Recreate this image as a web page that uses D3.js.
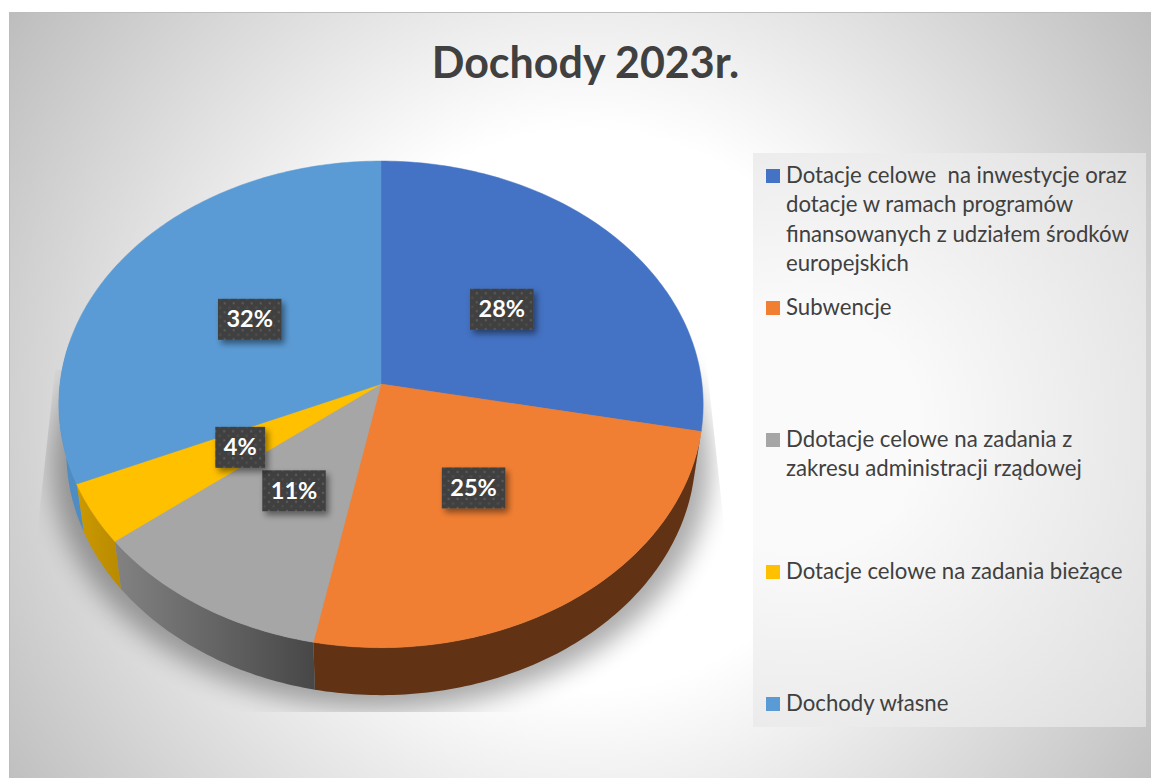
<!DOCTYPE html>
<html>
<head>
<meta charset="utf-8">
<script src="https://d3js.org/d3.v7.min.js"></script>
<style>
  html, body { margin: 0; padding: 0; background: white; overflow: hidden; }
  text { font-family: Lato, "Open Sans", sans-serif; white-space: pre; }
</style>
</head>
<body>
<div id="chart"></div>
<script>
// chart data
const titleText = "Dochody 2023r.";
const categories = [
  "Dotacje celowe  na inwestycje oraz dotacje w ramach programów finansowanych z udziałem środków europejskich",
  "Subwencje",
  "Ddotacje celowe na zadania z zakresu administracji rządowej",
  "Dotacje celowe na zadania bieżące",
  "Dochody własne"
];
const legendLines = [
  ["Dotacje celowe  na inwestycje oraz", "dotacje w ramach programów", "finansowanych z udziałem środków", "europejskich"],
  ["Subwencje"],
  ["Ddotacje celowe na zadania z", "zakresu administracji rządowej"],
  ["Dotacje celowe na zadania bieżące"],
  ["Dochody własne"]
];
// shares, the labels round them
const values = [28.1, 25, 11.3, 4.05, 31.55];

// colours
const topColors = ["#4472C4", "#F17F33", "#A6A6A6", "#FFC000", "#5B9BD5"];
const sideLeft = ["#2F5597", "#613214", "#828282", "#CC9900", "#4E8CC4"];
const sideRight = ["#2F5597", "#613214", "#474747", "#B88A00", "#4E8CC4"];

const width = 1151;
const height = 778;

const svg = d3.select("#chart")
  .append("svg")
  .attr("width", width)
  .attr("height", height)
  .style("display", "block");

const defs = svg.append("defs");

// page background, white middle and grey corners
const bg = defs.append("radialGradient")
  .attr("id", "bgGrad")
  .attr("gradientUnits", "userSpaceOnUse")
  .attr("cx", 585).attr("cy", 410).attr("r", 700);
bg.append("stop").attr("offset", "40%").attr("stop-color", "#ffffff");
bg.append("stop").attr("offset", "100%").attr("stop-color", "#bdbdbd");

const legendGrad = defs.append("radialGradient")
  .attr("id", "legendGrad")
  .attr("gradientUnits", "userSpaceOnUse")
  .attr("cx", 800).attr("cy", 430).attr("r", 480);
legendGrad.append("stop").attr("offset", "25%").attr("stop-color", "#fafafa");
legendGrad.append("stop").attr("offset", "100%").attr("stop-color", "#dcdcdc");

svg.append("rect")
  .attr("x", 9.5).attr("y", 12.5)
  .attr("width", width).attr("height", height)
  .attr("fill", "url(#bgGrad)")
  .attr("stroke", "#bdbdbd");

// pie in perspective: p bends the disc so the centre sits above the middle of the ellipse
const cx = 381, cy = 384;
const radiusX = 321, radiusY = 241.6, p = 0.0836;
const depth = 47.5, shrink = 0.977;

function project(a, r = 1) {
  const u = r * Math.sin(a), v = -r * Math.cos(a);
  const d = 1 - v * p;
  return [cx + radiusX * u / d, cy + radiusY * v / d];
}
function projectBottom(a) {
  const q = project(a);
  return [cx + (q[0] - cx) * shrink, q[1] + depth];
}

const slices = d3.pie().sort(null)(values);
const line = d3.line();

function arcPoints(fn, a0, a1) {
  const n = Math.max(2, Math.ceil(Math.abs(a1 - a0) * 60));
  return d3.range(n + 1).map(i => fn(a0 + (a1 - a0) * i / n));
}

// shadow on the floor, clipped like the plot area of the original
defs.append("filter")
  .attr("id", "shadowBlur")
  .attr("x", "-20%").attr("y", "-20%").attr("width", "140%").attr("height", "140%")
  .append("feGaussianBlur").attr("stdDeviation", 13);

defs.append("clipPath").attr("id", "shadowClip")
  .append("path")
  .attr("d", "M55,370 L38,525 L38,712 L724,712 L724,525 L703,330 Z");

const shadowRim = arcPoints(a => {
  const q = projectBottom(a);
  return [cx + (q[0] - cx) * 1.045, q[1] + 14];
}, 0, 2 * Math.PI);

svg.append("g")
  .attr("clip-path", "url(#shadowClip)")
  .append("path")
  .attr("d", line(shadowRim) + "Z")
  .attr("fill", "#000")
  .attr("opacity", 0.33)
  .attr("filter", "url(#shadowBlur)");

// side wall, only the part that faces the viewer
const frontStart = 100 * Math.PI / 180;
const frontEnd = 280 * Math.PI / 180;

slices.forEach((s, i) => {
  const a0 = Math.max(s.startAngle, frontStart);
  const a1 = Math.min(s.endAngle, frontEnd);
  if (a1 <= a0) return;
  const grad = defs.append("linearGradient").attr("id", "side" + i);
  grad.append("stop").attr("offset", "0%").attr("stop-color", sideLeft[i]);
  grad.append("stop").attr("offset", "100%").attr("stop-color", sideRight[i]);
  const pts = arcPoints(project, a0, a1).concat(arcPoints(projectBottom, a1, a0));
  svg.append("path")
    .attr("d", line(pts) + "Z")
    .attr("fill", "url(#side" + i + ")");
});

// top of the pie
svg.selectAll(".slice")
  .data(slices)
  .enter()
  .append("path")
  .attr("class", "slice")
  .attr("d", d => line([[cx, cy]].concat(arcPoints(project, d.startAngle, d.endAngle))) + "Z")
  .attr("fill", (d, i) => topColors[i])
  .attr("stroke", (d, i) => topColors[i])
  .attr("stroke-width", 0.5);

// data labels, dark boxes with a dotted pattern
const dots = defs.append("pattern")
  .attr("id", "dots")
  .attr("patternUnits", "userSpaceOnUse")
  .attr("width", 9).attr("height", 9);
dots.append("rect").attr("width", 9).attr("height", 9).attr("fill", "#404040");
dots.append("circle").attr("cx", 2).attr("cy", 2).attr("r", 1.2).attr("fill", "#5a5a5a");
dots.append("circle").attr("cx", 6.5).attr("cy", 6.5).attr("r", 1.2).attr("fill", "#4f4f4f");

defs.append("filter")
  .attr("id", "labelShadow")
  .attr("x", "-20%").attr("y", "-30%").attr("width", "150%").attr("height", "170%")
  .append("feDropShadow")
  .attr("dx", 3).attr("dy", 4).attr("stdDeviation", 3)
  .attr("flood-color", "#000").attr("flood-opacity", 0.45);

const total = d3.sum(values);
const labelGroups = svg.selectAll(".dataLabel")
  .data(slices)
  .enter()
  .append("g")
  .attr("class", "dataLabel")
  .attr("transform", d => {
    const q = project((d.startAngle + d.endAngle) / 2, 0.5);
    return "translate(" + q[0] + "," + q[1] + ")";
  });

const labelText = labelGroups.append("text")
  .attr("text-anchor", "middle")
  .attr("y", 8)
  .attr("font-size", 23.5)
  .attr("font-weight", 700)
  .attr("fill", "#fff")
  .text(d => d3.format(".0%")(d.value / total));

labelGroups.insert("rect", "text")
  .attr("x", function() { return -(this.parentNode.querySelector("text").getComputedTextLength() + 17) / 2; })
  .attr("y", -20.5)
  .attr("width", function() { return this.parentNode.querySelector("text").getComputedTextLength() + 17; })
  .attr("height", 41)
  .attr("fill", "url(#dots)")
  .attr("filter", "url(#labelShadow)");

// title
svg.append("text")
  .attr("x", 585.5)
  .attr("y", 78)
  .attr("text-anchor", "middle")
  .attr("font-size", 43)
  .attr("font-weight", 700)
  .attr("fill", "#404040")
  .text(titleText);

// legend
svg.append("rect")
  .attr("x", 753).attr("y", 153)
  .attr("width", 393).attr("height", 574)
  .attr("fill", "url(#legendGrad)");

const legendY = d3.scaleLinear()
  .domain([0, categories.length - 1])
  .range([183, 711]);

const legend = svg.selectAll(".legendItem")
  .data(categories)
  .enter()
  .append("g")
  .attr("class", "legendItem")
  .attr("transform", (d, i) => "translate(766," + legendY(i) + ")");

legend.append("rect")
  .attr("x", 0).attr("y", -14)
  .attr("width", 14).attr("height", 14)
  .attr("fill", (d, i) => topColors[i]);

legend.each(function(d, i) {
  d3.select(this).selectAll("text")
    .data(legendLines[i])
    .enter()
    .append("text")
    .attr("x", 20)
    .attr("y", (t, j) => j * 29.3)
    .attr("font-size", 22.2)
    .attr("fill", "#404040")
    .text(t => t);
});
</script>
</body>
</html>
